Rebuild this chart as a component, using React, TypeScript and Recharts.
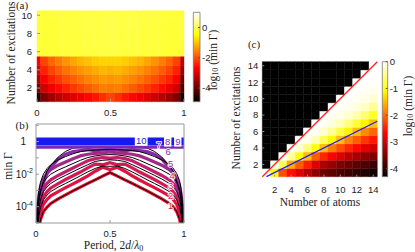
import { ComposedChart, Line, XAxis, YAxis, ReferenceArea, ReferenceLine, ReferenceDot } from "recharts";

const SANS = "'Liberation Sans', Arial, sans-serif";
const SERIF = "'Liberation Serif', 'Times New Roman', serif";
const GREY = "#9a9a9a";

// ---------- (a) log10(min Γ) vs period, one row per number of excitations
const periodA = [0, 0.05, 0.1, 0.15, 0.2, 0.25, 0.3, 0.35, 0.4, 0.45, 0.5, 0.55, 0.6, 0.65, 0.7, 0.75, 0.8, 0.85, 0.9, 0.95, 1];
const heatA1 = [-4.6, -3.8, -3.5, -3.3, -3.1, -2.95, -2.8, -2.65, -2.5, -2.3, -2.1, -2.3, -2.5, -2.65, -2.8, -2.95, -3.1, -3.3, -3.5, -3.8, -4.7];
const heatA2 = [-3.8, -3.1, -2.8, -2.6, -2.4, -2.2, -2.05, -1.9, -1.75, -1.6, -1.65, -1.6, -1.75, -1.9, -2.05, -2.2, -2.4, -2.6, -2.8, -3.1, -4.2];
const heatA3 = [-3.4, -2.7, -2.4, -2.2, -2.0, -1.85, -1.7, -1.55, -1.45, -1.35, -1.4, -1.35, -1.45, -1.55, -1.7, -1.85, -2.0, -2.2, -2.4, -2.7, -3.9];
const heatA4 = [-3.0, -2.4, -2.1, -1.9, -1.7, -1.55, -1.4, -1.3, -1.2, -1.1, -1.15, -1.1, -1.2, -1.3, -1.4, -1.55, -1.7, -1.9, -2.1, -2.4, -3.5];
const heatA5 = [-2.7, -2.1, -1.8, -1.6, -1.4, -1.25, -1.1, -1.0, -0.9, -0.85, -0.85, -0.85, -0.9, -1.0, -1.1, -1.25, -1.4, -1.6, -1.8, -2.1, -3.2];
const heatA6 = [-0.22, -0.18, -0.16, -0.15, -0.14, -0.13, -0.12, -0.11, -0.1, -0.09, -0.08, -0.09, -0.1, -0.11, -0.12, -0.13, -0.14, -0.15, -0.16, -0.18, -0.22];
const heatA7 = [-0.2, -0.17, -0.15, -0.14, -0.13, -0.12, -0.11, -0.1, -0.09, -0.08, -0.07, -0.08, -0.09, -0.1, -0.11, -0.12, -0.13, -0.14, -0.15, -0.17, -0.2];
const heatA8 = [-0.18, -0.16, -0.15, -0.14, -0.13, -0.12, -0.11, -0.1, -0.09, -0.08, -0.06, -0.08, -0.09, -0.1, -0.11, -0.12, -0.13, -0.14, -0.15, -0.16, -0.18];
const heatA9 = [-0.18, -0.16, -0.15, -0.14, -0.13, -0.12, -0.1, -0.09, -0.08, -0.07, -0.05, -0.07, -0.08, -0.09, -0.1, -0.12, -0.13, -0.14, -0.15, -0.16, -0.18];
const heatA10 = [-0.17, -0.15, -0.14, -0.13, -0.12, -0.11, -0.1, -0.09, -0.08, -0.07, -0.05, -0.07, -0.08, -0.09, -0.1, -0.11, -0.12, -0.13, -0.14, -0.15, -0.17];
const rowsA = [heatA1, heatA2, heatA3, heatA4, heatA5, heatA6, heatA7, heatA8, heatA9, heatA10];
const rangeA = [-4.9, 1];

// ---------- (b) min Γ vs period (log10 values)
const periodB = [0, 0.005, 0.01, 0.02, 0.03, 0.05, 0.075, 0.1, 0.15, 0.2, 0.25, 0.3, 0.35, 0.4, 0.45, 0.5, 0.55, 0.6, 0.65, 0.7, 0.75, 0.8, 0.85, 0.9, 0.925, 0.95, 0.97, 0.98, 0.99, 0.995, 1];
const minG1 = [-9, -6.8, -6.1, -5.3, -4.8, -4.3, -4.02, -3.8, -3.52, -3.27, -3.03, -2.8, -2.57, -2.35, -2.12, -1.9, -2.12, -2.35, -2.57, -2.8, -3.03, -3.27, -3.52, -3.8, -4.0, -4.28, -4.75, -5.2, -5.9, -6.6, -9];
const minG2 = [-9, -6.3, -5.6, -4.85, -4.35, -3.85, -3.55, -3.33, -3.07, -2.83, -2.6, -2.36, -2.1, -1.82, -1.58, -1.72, -1.58, -1.82, -2.1, -2.36, -2.6, -2.83, -3.07, -3.33, -3.53, -3.83, -4.3, -4.75, -5.5, -6.2, -9];
const minG3 = [-9, -5.9, -5.2, -4.4, -3.9, -3.38, -3.07, -2.85, -2.58, -2.33, -2.1, -1.87, -1.62, -1.38, -1.42, -1.3, -1.42, -1.38, -1.62, -1.87, -2.1, -2.33, -2.58, -2.85, -3.05, -3.35, -3.8, -4.3, -5.1, -5.8, -9];
const minG4 = [-9, -5.5, -4.7, -3.9, -3.4, -2.88, -2.57, -2.35, -2.08, -1.85, -1.62, -1.4, -1.18, -1.05, -0.98, -1.02, -0.98, -1.05, -1.18, -1.4, -1.62, -1.85, -2.08, -2.35, -2.55, -2.85, -3.3, -3.8, -4.6, -5.3, -9];
const minG5 = [-9, -4.9, -4.1, -3.3, -2.8, -2.3, -1.95, -1.72, -1.45, -1.25, -1.05, -0.88, -0.78, -0.72, -0.7, -0.64, -0.7, -0.72, -0.78, -0.88, -1.05, -1.25, -1.45, -1.72, -1.92, -2.25, -2.7, -3.2, -4.0, -4.7, -9];
const minG6 = [-9, -5.0, -4.4, -3.75, -3.2, -2.55, -1.92, -1.58, -1.08, -0.78, -0.62, -0.55, -0.5, -0.55, -0.52, -0.48, -0.52, -0.55, -0.5, -0.55, -0.62, -0.78, -1.08, -1.58, -1.9, -2.52, -3.15, -3.7, -4.3, -4.9, -9];
const boundG2 = [-9, -6.0, -5.3, -4.55, -4.05, -3.58, -3.28, -3.07, -2.8, -2.57, -2.34, -2.1, -1.86, -1.65, -1.5, -1.52, -1.5, -1.65, -1.86, -2.1, -2.34, -2.57, -2.8, -3.07, -3.27, -3.56, -4.0, -4.45, -5.2, -5.9, -9];
const boundG3 = [-9, -5.6, -4.9, -4.1, -3.6, -3.08, -2.78, -2.57, -2.3, -2.07, -1.85, -1.63, -1.42, -1.22, -1.15, -1.12, -1.15, -1.22, -1.42, -1.63, -1.85, -2.07, -2.3, -2.57, -2.77, -3.06, -3.5, -4.0, -4.8, -5.5, -9];
const boundG4 = [-9, -5.1, -4.3, -3.5, -3.0, -2.5, -2.2, -2.0, -1.75, -1.55, -1.35, -1.15, -0.98, -0.88, -0.82, -0.8, -0.82, -0.88, -0.98, -1.15, -1.35, -1.55, -1.75, -2.0, -2.18, -2.47, -2.9, -3.4, -4.2, -4.9, -9];
const boundG5 = [-9, -4.6, -3.8, -3.0, -2.5, -2.0, -1.65, -1.42, -1.12, -0.92, -0.75, -0.62, -0.55, -0.52, -0.5, -0.48, -0.5, -0.52, -0.55, -0.62, -0.75, -0.92, -1.12, -1.42, -1.62, -1.95, -2.4, -2.9, -3.7, -4.4, -9];
const boundG6 = [-9, -4.85, -4.3, -3.64, -3.1, -2.45, -1.8, -1.45, -0.95, -0.6, -0.4, -0.36, -0.35, -0.35, -0.35, -0.35, -0.35, -0.35, -0.35, -0.36, -0.4, -0.6, -0.95, -1.45, -1.78, -2.42, -3.05, -3.6, -4.25, -4.8, -9];
const level789 = -0.35;
const level10 = 0;
const decadesB = [1e-5, 1e-4, 1e-3, 1e-2, 1e-1, 1, 10];

const colouredB = [
  { key: "g1", values: minG1, color: "#e8102e" },
  { key: "g2", values: minG2, color: "#e01242" },
  { key: "g3", values: minG3, color: "#d41a56" },
  { key: "g4", values: minG4, color: "#c41f6c" },
  { key: "g5", values: minG5, color: "#a42888" },
  { key: "g6", values: minG6, color: "#8c28a8" },
];
const blackB = [
  { key: "k1", values: minG1 },
  { key: "k2", values: boundG2 },
  { key: "k3", values: boundG3 },
  { key: "k4", values: boundG4 },
  { key: "k5", values: boundG5 },
  { key: "k6", values: boundG6 },
];
const tagsB = [
  { text: "1", p: 0.91, v: -3.9, color: "#e8102e", box: false },
  { text: "2", p: 0.91, v: -3.29, color: "#e01242", box: false },
  { text: "3", p: 0.91, v: -2.68, color: "#d41a56", box: false },
  { text: "4", p: 0.92, v: -2.07, color: "#c41f6c", box: false },
  { text: "5", p: 0.91, v: -1.3, color: "#a42888", box: false },
  { text: "6", p: 0.893, v: -0.6, color: "#8c28a8", box: false },
  { text: "7", p: 0.83, v: -0.13, color: "#7a2ab8", box: false },
  { text: "8", p: 0.89, v: 0.03, color: "#7a2ab8", box: true },
  { text: "9", p: 0.958, v: 0.03, color: "#7a2ab8", box: true },
  { text: "10", p: 0.711, v: 0.08, color: "#1a1ae8", box: true },
];

const dataB = periodB.map((p, i) => {
  const row: Record<string, number> = { p, f789: 10 ** level789, f10: 10 ** level10 };
  colouredB.forEach((s) => (row[s.key] = 10 ** s.values[i]));
  blackB.forEach((s) => (row[s.key] = 10 ** s.values[i]));
  return row;
});

// ---------- (c) log10(min Γ) against number of atoms (x) and excitations (y)
const atomsC = [1, 2, 3, 4, 5, 6, 7, 8, 9, 10, 11, 12, 13, 14];
const heatC1 = [0, -1.1, -2.2, -2.6, -2.9, -3.15, -3.4, -3.6, -3.7, -3.8, -3.9, -4.0, -4.1, -4.2];
const heatC2 = [null, 0, -0.7, -1.6, -2.1, -2.5, -2.9, -3.2, -3.35, -3.5, -3.6, -3.7, -3.8, -3.9];
const heatC3 = [null, null, 0, -0.4, -1.0, -1.5, -2.1, -2.45, -2.7, -2.9, -3.1, -3.25, -3.4, -3.5];
const heatC4 = [null, null, null, 0, -0.2, -0.55, -1.0, -1.5, -1.9, -2.2, -2.45, -2.65, -2.85, -3.0];
const heatC5 = [null, null, null, null, 0, -0.1, -0.3, -0.7, -1.1, -1.5, -1.85, -2.1, -2.35, -2.55];
const heatC6 = [null, null, null, null, null, 0, -0.05, -0.2, -0.45, -0.8, -1.15, -1.5, -1.8, -2.05];
const heatC7 = [null, null, null, null, null, null, 0, -0.05, -0.15, -0.3, -0.55, -0.85, -1.15, -1.45];
const heatC8 = [null, null, null, null, null, null, null, 0, -0.04, -0.1, -0.2, -0.35, -0.6, -0.9];
const heatC9 = [null, null, null, null, null, null, null, null, 0, -0.03, -0.07, -0.15, -0.25, -0.45];
const heatC10 = [null, null, null, null, null, null, null, null, null, 0, -0.02, -0.05, -0.1, -0.2];
const heatC11 = [null, null, null, null, null, null, null, null, null, null, 0, -0.02, -0.04, -0.08];
const heatC12 = [null, null, null, null, null, null, null, null, null, null, null, 0, -0.01, -0.03];
const heatC13 = [null, null, null, null, null, null, null, null, null, null, null, null, 0, -0.01];
const heatC14 = [null, null, null, null, null, null, null, null, null, null, null, null, null, 0];
const rowsC = [heatC1, heatC2, heatC3, heatC4, heatC5, heatC6, heatC7, heatC8, heatC9, heatC10, heatC11, heatC12, heatC13, heatC14];
const rangeC = [-4.3, 0];
const ticksC = [2, 4, 6, 8, 10, 12, 14];

const hot = (v: number, lo: number, hi: number) => {
  const t = Math.min(1, Math.max(0, (v - lo) / (hi - lo)));
  const r = Math.min(1, t / 0.375);
  const g = Math.min(1, Math.max(0, (t - 0.375) / 0.375));
  const b = Math.max(0, (t - 0.75) / 0.25);
  return `rgb(${Math.round(r * 255)},${Math.round(g * 255)},${Math.round(b * 255)})`;
};

const tickStyle = { fontFamily: SANS, fontSize: 9.5, fill: "#222" };
const layer = { position: "absolute" as const, left: 0, top: 0 };

const HotGradient = ({ id }: { id: string }) => (
  <defs>
    <linearGradient id={id} x1="0" y1="1" x2="0" y2="0">
      <stop offset="0" stopColor="#000000" />
      <stop offset="0.375" stopColor="#ff0000" />
      <stop offset="0.75" stopColor="#ffff00" />
      <stop offset="1" stopColor="#ffffff" />
    </linearGradient>
  </defs>
);

const LogTick = (props: any) => {
  const { x, y, payload } = props;
  const e = Math.round(Math.log10(payload.value));
  if (e === 0)
    return (
      <text x={x - 7} y={y} textAnchor="end" dominantBaseline="central" fontFamily={SANS} fontSize={10} fill="#222">
        1
      </text>
    );
  if (e !== -2 && e !== -4) return <g />;
  return (
    <text x={x} y={y} textAnchor="end" dominantBaseline="central" fontFamily={SANS} fontSize={10} fill="#222">
      10
      <tspan fontSize={7} dy={-4}>{`-${-e}`}</tspan>
    </text>
  );
};

const CurveTag = (props: any) => {
  const { cx, cy, tag } = props;
  const w = tag.text.length * 5.4 + 2;
  return (
    <g>
      {tag.box && <rect x={cx - w / 2} y={cy - 5.5} width={w} height={11} fill="#ffffff" />}
      <text
        x={cx}
        y={cy + 0.5}
        textAnchor="middle"
        dominantBaseline="central"
        fontFamily={SANS}
        fontSize={9.5}
        fill={tag.color}
        stroke="#ffffff"
        strokeWidth={tag.box ? 0 : 1.6}
        paintOrder="stroke"
      >
        {tag.text}
      </text>
    </g>
  );
};

const PanelA = () => (
  <div style={layer}>
    <ComposedChart width={415} height={252} data={periodA.map((p) => ({ p }))} margin={{ top: 10.7, right: 221, bottom: 130.3, left: 7 }}>
      <XAxis dataKey="p" type="number" domain={[0, 1]} ticks={[0, 0.5, 1]} interval={0} allowDataOverflow axisLine={false} tickSize={-3} tickMargin={11} stroke={GREY} height={20} tick={tickStyle} tickFormatter={(v) => String(v)} />
      <YAxis type="number" domain={[0.5, 10.5]} ticks={[2, 4, 6, 8, 10]} interval={0} allowDataOverflow axisLine={false} tickSize={-3} tickMargin={8} stroke={GREY} width={30} tick={tickStyle} />
      <YAxis yAxisId="r" orientation="right" type="number" domain={[0.5, 10.5]} ticks={[2, 4, 6, 8, 10]} allowDataOverflow axisLine={false} tick={false} tickSize={-3} stroke={GREY} width={10} />
      {rowsA.map((row, m) =>
        row.map((v, j) => (
          <ReferenceArea
            key={`a${m}-${j}`}
            x1={Math.max(0, periodA[j] - 0.025)}
            x2={Math.min(1, periodA[j] + 0.025)}
            y1={m + 0.5}
            y2={m + 1.5}
            fill={hot(v, rangeA[0], rangeA[1])}
            fillOpacity={1}
            stroke={hot(v, rangeA[0], rangeA[1])}
            strokeWidth={0.4}
          />
        ))
      )}
    </ComposedChart>
  </div>
);

const ColourBar = ({ id, range, ticks, top, bottom, left, right }: any) => (
  <div style={layer}>
    <ComposedChart width={415} height={252} data={[{ x: 0 }, { x: 1 }]} margin={{ top, right, bottom, left }}>
      <HotGradient id={id} />
      <XAxis dataKey="x" type="number" domain={[0, 1]} hide />
      <YAxis orientation="right" type="number" domain={range} ticks={ticks} interval={0} allowDataOverflow axisLine={false} tickSize={-2} tickMargin={4} stroke="#555" width={20} tick={{ ...tickStyle, textAnchor: "start" }} />
      <ReferenceArea x1={0} x2={1} y1={range[0]} y2={range[1]} fill={`url(#${id})`} fillOpacity={1} stroke="#777" strokeWidth={0.8} />
    </ComposedChart>
  </div>
);

const PanelB = () => (
  <div style={layer}>
    <ComposedChart width={415} height={252} data={dataB} margin={{ top: 114, right: 221, bottom: 9, left: 6 }}>
      <XAxis dataKey="p" type="number" domain={[0, 1]} ticks={[0, 0.5, 1]} interval={0} allowDataOverflow stroke={GREY} tickSize={-3} tickMargin={10} height={20} tick={tickStyle} tickFormatter={(v) => String(v)} />
      <XAxis xAxisId="t" orientation="top" dataKey="p" type="number" domain={[0, 1]} ticks={[0, 0.5, 1]} interval={0} allowDataOverflow stroke={GREY} tickSize={-3} tick={false} height={10} />
      <YAxis scale="log" type="number" domain={[1e-5, 12]} ticks={decadesB} interval={0} allowDataOverflow stroke={GREY} tickSize={-3} tickMargin={6} width={30} tick={(props: any) => <LogTick {...props} />} />
      <YAxis yAxisId="r" orientation="right" scale="log" type="number" domain={[1e-5, 12]} ticks={decadesB} interval={0} allowDataOverflow stroke={GREY} tickSize={-3} tick={false} width={10} />
      {colouredB.map((s) => (
        <Line key={s.key} dataKey={s.key} stroke={s.color} strokeWidth={3.2} dot={false} isAnimationActive={false} />
      ))}
      {blackB.map((s) => (
        <Line key={s.key} dataKey={s.key} stroke="#000000" strokeWidth={1} dot={false} isAnimationActive={false} />
      ))}
      <Line dataKey="f789" stroke="#7a2ab8" strokeWidth={3} dot={false} isAnimationActive={false} />
      <Line dataKey="f10" stroke="#1818f0" strokeWidth={8} dot={false} isAnimationActive={false} />
      {tagsB.map((t) => (
        <ReferenceDot key={t.text} x={t.p} y={10 ** t.v} r={0} ifOverflow="visible" shape={(props: any) => <CurveTag {...props} tag={t} />} />
      ))}
    </ComposedChart>
  </div>
);

const PanelC = () => (
  <div style={layer}>
    <ComposedChart width={415} height={252} data={atomsC.map((n) => ({ n }))} margin={{ top: 51.7, right: 27.7, bottom: 55.3, left: 242.3 }}>
      <XAxis dataKey="n" type="number" domain={[0.5, 14.5]} ticks={ticksC} interval={0} allowDataOverflow axisLine={false} tickSize={-2} tickMargin={12} stroke={GREY} height={20} tick={tickStyle} />
      <XAxis xAxisId="t" orientation="top" dataKey="n" type="number" domain={[0.5, 14.5]} ticks={ticksC} interval={0} allowDataOverflow axisLine={false} tickSize={-2} tick={false} stroke={GREY} height={10} />
      <YAxis type="number" domain={[0.5, 14.5]} ticks={ticksC} interval={0} allowDataOverflow axisLine={false} tickSize={-2} tickMargin={6} stroke={GREY} width={20} tick={tickStyle} />
      <YAxis yAxisId="r" orientation="right" type="number" domain={[0.5, 14.5]} ticks={ticksC} interval={0} allowDataOverflow axisLine={false} tickSize={-2} tick={false} stroke={GREY} width={10} />
      {rowsC.map((row, m) =>
        row.map((v, j) => {
          const fill = v === null ? "#000000" : hot(v, rangeC[0], rangeC[1]);
          return (
            <ReferenceArea key={`c${m}-${j}`} x1={atomsC[j] - 0.5} x2={atomsC[j] + 0.5} y1={m + 0.5} y2={m + 1.5} fill={fill} fillOpacity={1} stroke={fill} strokeWidth={0.4} />
          );
        })
      )}
      <ReferenceLine segment={[{ x: 0.5, y: 0.5 }, { x: 14.5, y: 14.5 }]} stroke="#ff2020" strokeWidth={1.3} ifOverflow="visible" />
      <ReferenceLine segment={[{ x: 1, y: 0.5 }, { x: 14.5, y: 7.25 }]} stroke="#2020ff" strokeWidth={1.3} ifOverflow="visible" />
    </ComposedChart>
  </div>
);

const Titles = () => (
  <svg width={415} height={252} style={{ ...layer, pointerEvents: "none" }} fontFamily={SERIF} fill="#222">
    <text x={22} y={9} textAnchor="middle" fontSize={11}>(a)</text>
    <text x={22} y={129} textAnchor="middle" fontSize={11}>(b)</text>
    <text x={254} y={47.5} textAnchor="middle" fontSize={11}>(c)</text>
    <text transform="translate(10.5,53) rotate(-90)" textAnchor="middle" dominantBaseline="central" fontSize={11.5}>Number of excitations</text>
    <text transform="translate(236,118) rotate(-90)" textAnchor="middle" dominantBaseline="central" fontSize={11.5}>Number of excitations</text>
    <text transform="translate(8,166) rotate(-90)" textAnchor="middle" dominantBaseline="central" fontSize={11.5}>min Γ</text>
    <text x={113.5} y={249} textAnchor="middle" fontSize={11.5}>
      Period, 2<tspan fontStyle="italic">d</tspan>/<tspan fontStyle="italic">λ</tspan>
      <tspan fontSize={8} dy={2}>0</tspan>
    </text>
    <text x={320} y={205.5} textAnchor="middle" fontSize={11.5}>Number of atoms</text>
    <text transform="translate(212.5,60) rotate(-90)" textAnchor="middle" dominantBaseline="central" fontSize={11.5}>
      log<tspan fontSize={8} dy={2}>10</tspan>
      <tspan dy={-2}> (min Γ)</tspan>
    </text>
    <text transform="translate(408,106) rotate(-90)" textAnchor="middle" dominantBaseline="central" fontSize={11.5}>
      log<tspan fontSize={8} dy={2}>10</tspan>
      <tspan dy={-2}> (min Γ)</tspan>
    </text>
  </svg>
);

export default function App() {
  return (
    <div style={{ position: "absolute", left: 0, top: 0, width: 415, height: 252, overflow: "hidden", background: "#ffffff" }}>
      <PanelA />
      <ColourBar id="hotA" range={rangeA} ticks={[-4, -2, 0]} top={12.3} bottom={150.3} left={193.3} right={195} />
      <PanelB />
      <PanelC />
      <ColourBar id="hotC" range={rangeC} ticks={[-4, -3, -2, -1, 0]} top={61.7} bottom={75.3} left={382.3} right={7.3} />
      <Titles />
    </div>
  );
}
